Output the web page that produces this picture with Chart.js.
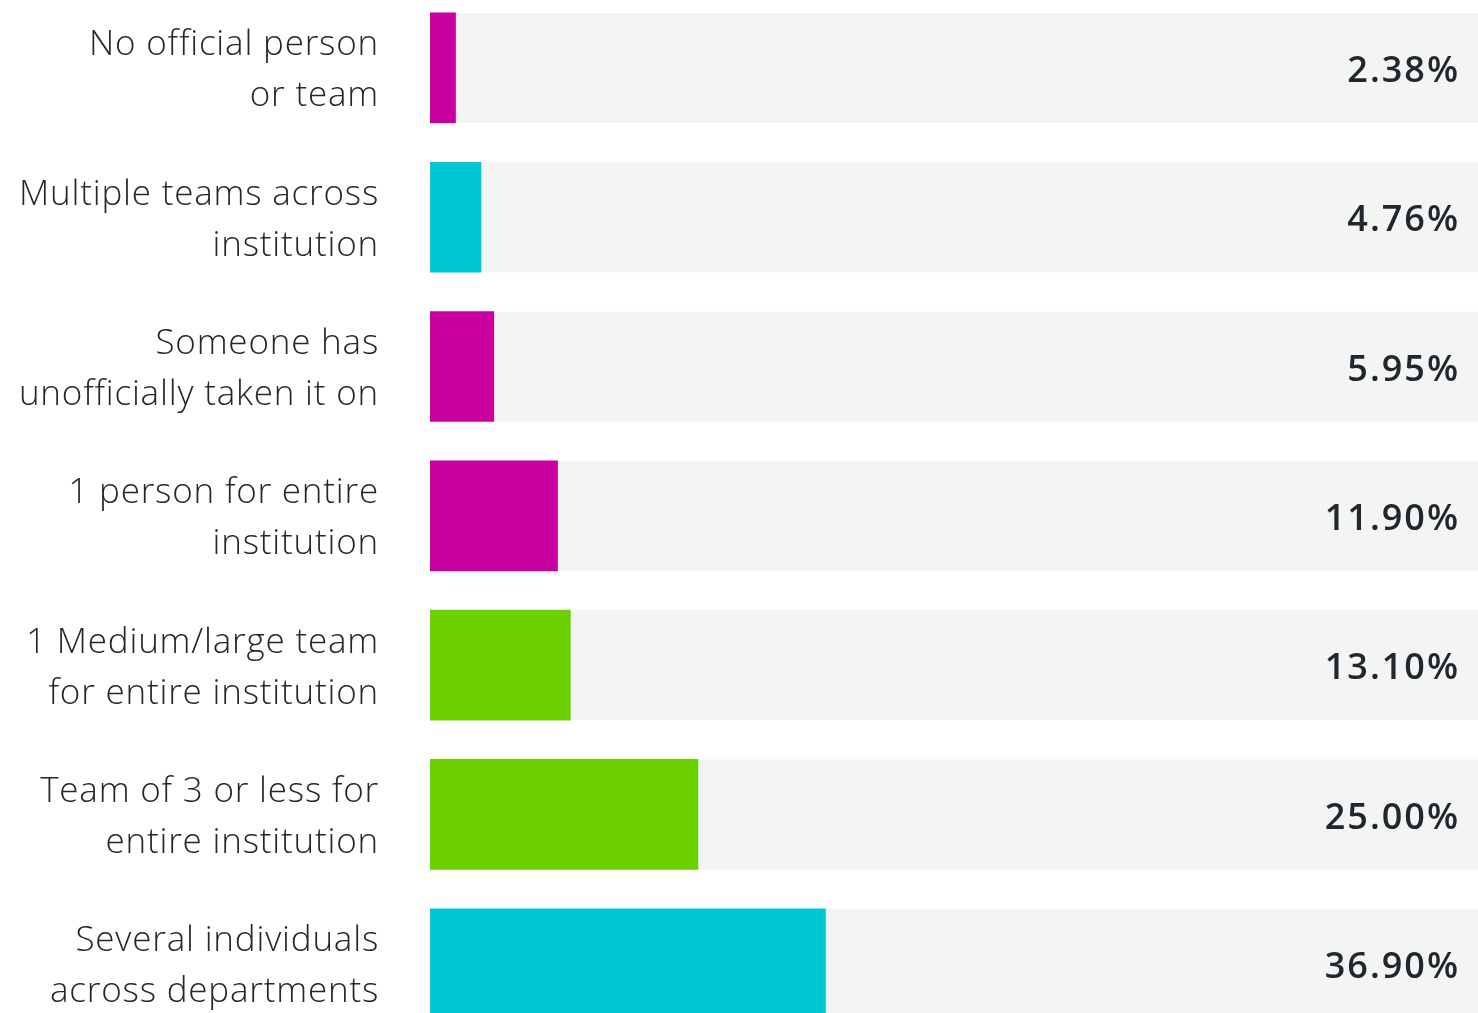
<!DOCTYPE html>
<html>
<head>
<meta charset="utf-8">
<script src="https://cdn.jsdelivr.net/npm/chart.js@4.4.1/dist/chart.umd.min.js"></script>
<style>
  html, body { margin: 0; padding: 0; background: #fff; }
  #wrap { width: 1478px; height: 1013px; position: relative; }
</style>
</head>
<body>
<div id="wrap"><canvas id="ownershipChart"></canvas></div>
<script>
// who is responsible, one row per answer (top to bottom)
const categories = [
  ["No official person", "or team"],
  ["Multiple teams across", "institution"],
  ["Someone has", "unofficially taken it on"],
  ["1 person for entire", "institution"],
  ["1 Medium/large team", "for entire institution"],
  ["Team of 3 or less for", "entire institution"],
  ["Several individuals", "across departments"]
];
const shares = [2.38, 4.76, 5.95, 11.90, 13.10, 25.00, 36.90];
const valueLabels = ["2.38%", "4.76%", "5.95%", "11.90%", "13.10%", "25.00%", "36.90%"];
const barColors = ["#c800a0", "#00c7d3", "#c800a0", "#c800a0", "#6dd000", "#6dd000", "#00c7d3"];

const TRACK = "#f3f4f4";
const INK = "#23272d";
const FONT = "'Open Sans', 'Noto Sans', sans-serif";

// grey track behind every bar, full width of the plot area
const trackPlugin = {
  id: "tracks",
  beforeDraw(chart) {
    // slightly loose tracking for the axis labels
    chart.ctx.letterSpacing = "0.8px";
  },
  beforeDatasetsDraw(chart) {
    const { ctx, chartArea } = chart;
    const meta = chart.getDatasetMeta(0);
    ctx.save();
    ctx.fillStyle = TRACK;
    meta.data.forEach((bar) => {
      ctx.fillRect(chartArea.left, bar.y - bar.height / 2,
        chartArea.right - chartArea.left, bar.height);
    });
    ctx.restore();
  },
  afterDraw(chart) {
    chart.ctx.letterSpacing = "0px";
  }
};

// percentage text at the right end of each track
const valuePlugin = {
  id: "values",
  afterDatasetsDraw(chart) {
    const { ctx, chartArea } = chart;
    const meta = chart.getDatasetMeta(0);
    ctx.save();
    ctx.font = `600 36px ${FONT}`;
    ctx.letterSpacing = "2px";
    ctx.fillStyle = INK;
    ctx.textAlign = "right";
    ctx.textBaseline = "middle";
    meta.data.forEach((bar, i) => {
      ctx.fillText(valueLabels[i], chartArea.right - 18, bar.y + 4);
    });
    ctx.restore();
  }
};

new Chart(document.getElementById("ownershipChart"), {
  type: "bar",
  data: {
    datasets: [{
      data: shares.map((v, i) => ({ x: v, y: i })),
      backgroundColor: barColors,
      borderWidth: 0,
      barThickness: 110
    }]
  },
  options: {
    indexAxis: "y",
    responsive: true,
    maintainAspectRatio: false,
    animation: false,
    layout: { padding: 0 },
    plugins: { legend: { display: false }, tooltip: { enabled: false } },
    scales: {
      x: { min: 0, max: 97.8, display: false },
      y: {
        type: "linear",
        reverse: true,
        offset: false,
        min: -0.455,
        max: 6.33,
        grid: { display: false, drawTicks: false },
        border: { display: false },
        // labels sit a touch below the bar centre
        afterBuildTicks: (scale) => {
          scale.ticks = categories.map((_, i) => ({ value: i + 0.02 }));
        },
        afterFit: (scale) => {
          scale.width = 430;
          scale.paddingTop = 0;
          scale.paddingBottom = 0;
        },
        ticks: {
          padding: 51,
          color: INK,
          font: { family: FONT, size: 35, weight: 300, lineHeight: 1.46 },
          callback: (v) => categories[Math.round(v)] || ""
        }
      }
    }
  },
  plugins: [trackPlugin, valuePlugin]
});
</script>
</body>
</html>
